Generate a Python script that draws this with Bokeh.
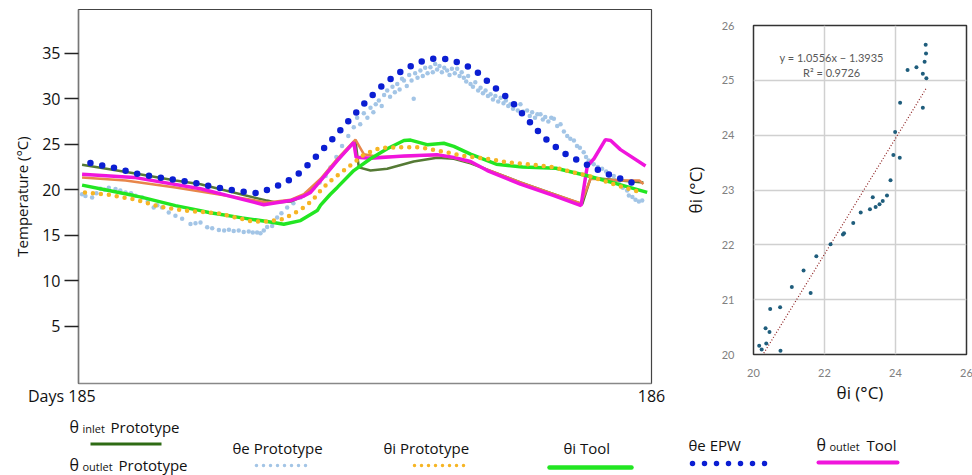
from bokeh.plotting import figure
from bokeh.layouts import column, row
from bokeh.models import Range1d, FixedTicker, Spacer
from bokeh.core.properties import value
from bokeh.embed import file_html
from bokeh.resources import INLINE

# ---------------- data (hours of day 185, temperature in degC) ----------------
DAY0 = 185
x_ticks = [185, 186]
x_tick_labels = {185: "Days 185" + "\u00a0" * 8, 186: "186"}
y_ticks = [5, 10, 15, 20, 25, 30, 35]

epw_h = [0.5, 1.5, 2.54, 3.5, 4.54, 5.5, 6.53, 7.54, 8.03, 8.49, 8.93, 9.34, 10.05, 10.76,
         11.43, 12.12, 12.83, 13.67, 14.6, 15.1, 15.6, 16.54, 17.31, 18.1, 18.78, 19.46,
         20.27, 21.16, 22.07, 23.04, 23.53]
epw_t = [22.93, 22.4, 21.68, 21.3, 20.9, 20.4, 19.9, 19.6, 20.1, 20.6, 21.2, 22.0, 23.9, 25.9,
         27.9, 29.9, 31.7, 33.3, 34.35, 34.4, 34.3, 33.3, 31.5, 29.8, 27.8, 25.8,
         24.1, 22.9, 21.8, 20.9, 20.4]

inlet_h = [0.15, 2.32, 4.06, 5.11, 6.16, 7.9, 8.25, 8.88, 9.44, 10.14, 10.84, 11.6, 11.74,
           12.23, 12.93, 14.04, 15.02, 15.72, 16.42, 17.12, 18.51, 19.91, 21.1, 21.45,
           22.7, 23.66]
inlet_t = [22.75, 21.8, 21.0, 20.6, 19.9, 18.8, 18.6, 18.7, 19.3, 21.0, 23.2, 25.4, 22.45,
           22.1, 22.3, 23.1, 23.5, 23.4, 22.9, 22.2, 20.8, 19.5, 18.4, 21.3,
           21.0, 20.8]

outlet_proto_h = [0.15, 1.97, 4.06, 6.16, 7.9, 8.9, 9.44, 10.14, 10.84, 11.6, 11.95, 12.6,
                  14.04, 15.02, 15.72, 16.42, 17.12, 18.51, 19.91, 21.05, 21.45, 22.7,
                  23.5, 23.66]
outlet_proto_t = [21.35, 21.0, 20.25, 19.35, 18.6, 18.9, 19.5, 21.2, 23.4, 25.5, 23.9, 23.6,
                  23.7, 23.8, 23.5, 23.0, 22.2, 20.8, 19.5, 18.5, 21.2, 21.0,
                  21.0, 20.6]

outlet_tool_h = [0.15, 2.32, 5.11, 7.76, 8.88, 9.44, 9.72, 10.14, 10.84, 11.53, 11.63, 12.23,
                 13.63, 15.02, 15.72, 16.42, 17.12, 18.51, 19.91, 21.05, 21.31, 21.59,
                 22.07, 22.29, 22.7, 23.75]
outlet_tool_t = [21.7, 21.35, 20.1, 18.35, 18.8, 19.3, 19.7, 21.0, 23.2, 25.2, 23.55, 23.45,
                 23.7, 23.85, 23.55, 23.1, 22.1, 20.6, 19.35, 18.25, 22.6, 23.4,
                 25.5, 25.4, 24.4, 22.6]

tool_i_h = [0.15, 1.27, 2.32, 2.67, 4.06, 5.11, 5.46, 6.85, 7.9, 8.6, 9.3, 10.0, 10.14,
            10.55, 10.84, 11.53, 12.23, 12.93, 13.63, 13.91, 14.6, 15.3, 15.72, 16.42,
            17.12, 17.5, 18.6, 20.0, 21.35, 22.75, 23.82]
tool_i_t = [20.5, 19.9, 19.35, 19.15, 18.25, 17.7, 17.5, 16.9, 16.5, 16.2, 16.6, 17.7, 18.3,
            19.5, 20.25, 22.1, 23.4, 24.5, 25.4, 25.45, 24.95, 25.1, 24.75, 23.9,
            23.2, 22.8, 22.5, 22.35, 21.5, 20.5, 19.7]

proto_i_h = [0.27, 1.27, 2.39, 3.44, 4.48, 5.87, 7.27, 7.97, 8.6, 9.3, 9.79, 10.14, 10.48,
             11.4, 11.95, 12.65, 13.35, 14.32, 15.44, 16.14, 17.12, 17.96, 19.07, 19.91,
             20.75, 21.58, 22.42, 23.54]
proto_i_t = [19.7, 19.45, 18.9, 18.1, 17.7, 17.4, 16.5, 16.5, 16.8, 17.8, 18.8, 19.9, 20.8,
             22.7, 23.85, 24.6, 24.65, 24.65, 24.1, 23.7, 23.4, 23.0, 22.75, 22.45,
             21.9, 21.35, 20.6, 19.7]

proto_e_h = [0.15, 0.29, 0.57, 0.75, 0.92, 1.1, 1.27, 1.55, 1.75, 1.97, 2.2, 2.39, 2.67, 2.9,
             3.15, 3.3, 3.5, 3.78, 4.06, 4.34, 4.69, 4.9, 5.11, 5.39, 5.6, 5.88, 6.1, 6.3,
             6.5, 6.71, 6.92, 7.13, 7.3, 7.48, 7.62, 7.76, 7.9, 8.11, 8.32, 8.5, 8.74, 9.0,
             9.3, 9.55, 9.86, 10.1, 10.35, 10.55, 10.8, 11.04, 11.3, 11.53,
             11.67, 11.8, 11.95, 12.1, 12.23, 12.35, 12.45, 12.58, 12.7, 12.8, 12.93, 13.05,
             13.15, 13.25, 13.35, 13.45, 13.55, 13.63, 13.75, 13.85, 13.95, 14.04, 14.1,
             14.2, 14.32, 14.42, 14.52, 14.62, 14.74, 14.84, 14.94, 15.02, 15.12, 15.22,
             15.32, 15.44, 15.54, 15.64, 15.76, 15.86, 15.96, 16.05, 16.14, 16.24, 16.32,
             16.42, 16.52, 16.62, 16.74, 16.84, 16.94, 17.05, 17.15, 17.26, 17.36, 17.46,
             17.58, 17.68, 17.8, 17.9, 18.0, 18.09, 18.2, 18.3, 18.4, 18.51, 18.62, 18.79,
             18.9, 19.0, 19.12, 19.22, 19.35, 19.45, 19.55, 19.68, 19.8, 19.91, 20.05,
             20.19, 20.33, 20.47, 20.6, 20.75, 20.88, 21.0, 21.16, 21.26, 21.37, 21.47,
             21.58, 21.75, 21.93, 22.1, 22.25, 22.42, 22.49, 22.65, 22.8, 22.98, 23.05,
             23.2, 23.33, 23.47, 23.61]
proto_e_t = [19.5, 19.3, 19.15, 19.6, 20.1, 20.0, 20.2, 20.08, 19.9, 19.7, 19.6, 19.34, 19.15, 18.7,
             18.05, 18.3, 18.05, 17.5, 17.14, 16.8, 16.23, 16.3, 16.4, 15.86, 15.75, 15.57, 15.5, 15.6,
             15.45, 15.5, 15.35, 15.4, 15.3, 15.3, 15.2, 15.5, 15.9, 16.0, 16.95, 17.4, 18.05, 18.5,
             19.15, 19.6, 20.25, 20.8, 21.5, 22.45, 23.6, 24.8, 25.9, 26.85,
             27.9, 27.2, 28.4, 27.9, 29.0, 28.5, 29.4, 29.8, 29.2, 30.4, 30.9, 30.2,
             31.3, 30.7, 31.6, 31.0, 32.2, 32.0, 31.4, 32.6, 32.0, 30.0, 32.8,
             32.3, 33.1, 32.5, 33.4, 32.8, 33.45, 32.9, 33.8, 33.2, 33.6, 32.9,
             33.4, 33.1, 32.6, 33.3, 32.8, 33.3, 32.5, 32.9, 32.3, 31.9, 32.5,
             31.6, 31.3, 31.8, 30.9, 31.2, 30.6, 30.9, 30.3, 30.5, 29.9, 30.3,
             29.7, 30.1, 29.5, 29.8, 29.2, 29.4, 28.9, 29.3, 28.7, 29.4, 28.6, 28.7,
             28.1, 28.5, 27.9, 28.3, 28.3, 27.7, 28.0, 27.5, 27.9, 27.8, 27.0,
             27.2, 26.4, 25.9, 25.6, 25.4, 24.8, 24.6, 24.1, 23.6, 23.2, 23.0,
             22.8, 22.5, 22.3, 22.0, 21.7, 21.5, 21.0, 20.6, 20.2, 19.9, 19.35,
             19.2, 18.9, 18.7, 18.8]

# scatter (right chart)
sc_x = [24.85, 24.86, 24.82, 24.59, 24.34, 24.77, 24.87, 24.13, 24.77, 23.99, 23.94, 24.12,
        23.86, 23.76, 23.36, 23.64, 23.55, 23.44, 23.28, 23.02, 22.81, 22.55, 22.52, 22.17,
        21.77, 21.41, 21.08, 21.61, 20.47, 20.75, 20.34, 20.45, 20.36, 20.16, 20.23, 20.76]
sc_y = [25.65, 25.49, 25.34, 25.24, 25.19, 25.12, 25.04, 24.59, 24.50, 24.06, 23.64, 23.59,
        23.18, 22.90, 22.87, 22.80, 22.74, 22.69, 22.65, 22.59, 22.40, 22.21, 22.19, 22.01,
        21.79, 21.53, 21.23, 21.12, 20.83, 20.86, 20.48, 20.41, 20.20, 20.16, 20.09, 20.07]
trend_slope = 1.0556
trend_icpt = -1.3935
trend_x = [20.29, 24.87]
sc_ticks = [20, 22, 24, 26]
sc_yticks = [20, 21, 22, 23, 24, 25, 26]


def to_day(hours):
    return [DAY0 + h / 24.0 for h in hours]


FONT = "Open Sans"

# ---------------- left chart ----------------
p = figure(frame_width=573, frame_height=374, x_range=Range1d(185, 186),
           y_range=Range1d(-1.3, 39.8), output_backend="svg", toolbar_location=None,
           min_border_left=78, min_border_right=29, min_border_top=9, min_border_bottom=22,
           title=None)
p.grid.visible = False
p.outline_line_color = "#444444"
p.outline_line_width = 1.2

p.yaxis.ticker = FixedTicker(ticks=y_ticks)
p.yaxis.axis_label = "Temperature (°C)"
p.yaxis.axis_label_text_font = FONT
p.yaxis.axis_label_text_font_size = "15px"
p.yaxis.axis_label_text_font_style = "normal"
p.yaxis.axis_label_text_color = "#111111"
p.yaxis.axis_label_standoff = 7
p.yaxis.major_label_text_font = FONT
p.yaxis.major_label_text_font_size = "16px"
p.yaxis.major_label_text_color = "#111111"
p.yaxis.major_label_standoff = 4
p.yaxis.major_tick_in = 0
p.yaxis.major_tick_out = 14
p.yaxis.major_tick_line_color = "#222222"
p.yaxis.major_tick_line_width = 1.3
p.yaxis.minor_tick_line_color = None
p.yaxis.axis_line_color = "#777777"
p.yaxis.axis_line_width = 1.5

p.xaxis.ticker = FixedTicker(ticks=x_ticks)
p.xaxis.major_label_overrides = x_tick_labels
p.xaxis.major_label_text_font = FONT
p.xaxis.major_label_text_font_size = "16px"
p.xaxis.major_label_text_color = "#111111"
p.xaxis.major_label_standoff = 1
p.xaxis.major_tick_in = 0
p.xaxis.major_tick_out = 0
p.xaxis.minor_tick_line_color = None
p.xaxis.axis_line_color = "#888888"
p.xaxis.axis_line_width = 1.5

p.scatter(to_day(proto_e_h), proto_e_t, size=4.5, color="#a3c5e6", line_color=None)
p.line(to_day(inlet_h), inlet_t, color="#557a35", line_width=2.5)
p.line(to_day(outlet_proto_h), outlet_proto_t, color="#e8864a", line_width=2.5)
p.line(to_day(outlet_tool_h), outlet_tool_t, color="#f015dc", line_width=3.5)
p.line(to_day(tool_i_h), tool_i_t, color="#22e622", line_width=3.5)
p.line(to_day(proto_i_h), proto_i_t, color="#f6b524", line_width=4.5,
       line_dash="0 8", line_cap="round")
p.line(to_day(epw_h), epw_t, color="#0b1ed2", line_width=6.5,
       line_dash="0 12", line_cap="round")

# ---------------- right chart ----------------
q = figure(frame_width=213, frame_height=329, x_range=Range1d(20, 26), y_range=Range1d(20, 26),
           output_backend="svg", toolbar_location=None, title=None,
           min_border_left=69, min_border_right=10, min_border_top=9, min_border_bottom=51)
q.outline_line_color = "#333333"
q.outline_line_width = 1.5
q.xgrid.ticker = FixedTicker(ticks=[22, 24])
q.ygrid.ticker = FixedTicker(ticks=[21, 22, 23, 24, 25])
q.grid.grid_line_color = "#d0d0d0"
q.grid.grid_line_width = 1.5
for ax in (q.xaxis, q.yaxis):
    ax.axis_line_color = None
    ax.major_tick_line_color = None
    ax.minor_tick_line_color = None
    ax.major_label_text_font = "Lato"
    ax.major_label_text_font_size = "11px"
    ax.major_label_text_color = "#808080"
    ax.axis_label = "θi (°C)"
    ax.axis_label_text_font = FONT
    ax.axis_label_text_font_size = "17px"
    ax.axis_label_text_font_style = "normal"
    ax.axis_label_text_color = "#111111"
q.xaxis.ticker = FixedTicker(ticks=sc_ticks)
q.yaxis.ticker = FixedTicker(ticks=sc_yticks)
q.xaxis.major_label_standoff = 8
q.xaxis.axis_label_standoff = 1
q.yaxis.major_label_standoff = 13
q.yaxis.axis_label_standoff = 12

q.line(trend_x, [trend_slope * v + trend_icpt for v in trend_x], color="#8b1c1c",
       line_width=1.2, line_dash="1 2")
q.scatter(sc_x, sc_y, size=4, color="#1f5d7c", line_color=None)
q.text(x=[22.2, 22.2], y=[25.42, 25.14],
       text=["y = 1.0556x − 1.3935", "R² = 0.9726"],
       text_font=value("Lato"), text_font_size="11px", text_color="#595959",
       text_align="center", text_baseline="middle")

# ---------------- legend strip ----------------
lg = figure(width=972, height=67, x_range=Range1d(0, 972), y_range=Range1d(475, 408),
            output_backend="svg", toolbar_location=None, title=None,
            min_border_left=0, min_border_right=0, min_border_top=0, min_border_bottom=0)
lg.axis.visible = False
lg.grid.visible = False
lg.outline_line_color = None


def txt(x, y, s, size="15px"):
    lg.text(x=[x], y=[y], text=[s], text_font=value(FONT), text_font_size=size,
            text_color="#111111", text_align="left", text_baseline="middle")


txt(69, 425, "θ", "16px")
txt(82, 427, "inlet", "11px")
txt(110, 425, "Prototype")
lg.line([90, 161], [442.5, 442.5], color="#2e6b14", line_width=3)
txt(69, 463, "θ", "16px")
txt(82, 465, "outlet", "11px")
txt(118, 463, "Prototype")

txt(232, 446, "θe Prototype")
lg.line([256, 311], [464, 464], color="#a3c5e6", line_width=3.5, line_dash="0 7",
        line_cap="round")
txt(383, 446, "θi Prototype")
lg.line([414, 470], [464, 464], color="#f6b524", line_width=3.5, line_dash="0 7",
        line_cap="round")

txt(563, 446, "θi Tool")
lg.line([549, 631], [466, 466], color="#22e622", line_width=4.5, line_cap="round")

txt(688, 443, "θe  EPW")
lg.line([692, 766], [462, 462], color="#0b1ed2", line_width=5.5, line_dash="0 12",
        line_cap="round")

txt(816, 443, "θ", "16px")
txt(829, 445, "outlet", "11px")
txt(866, 443, "Tool")
lg.line([818, 897], [461, 461], color="#f015dc", line_width=4, line_cap="round")

layout = column(row(p, column(Spacer(width=292, height=16), q)), lg)
open("out.html", "w").write(file_html(layout, INLINE))
